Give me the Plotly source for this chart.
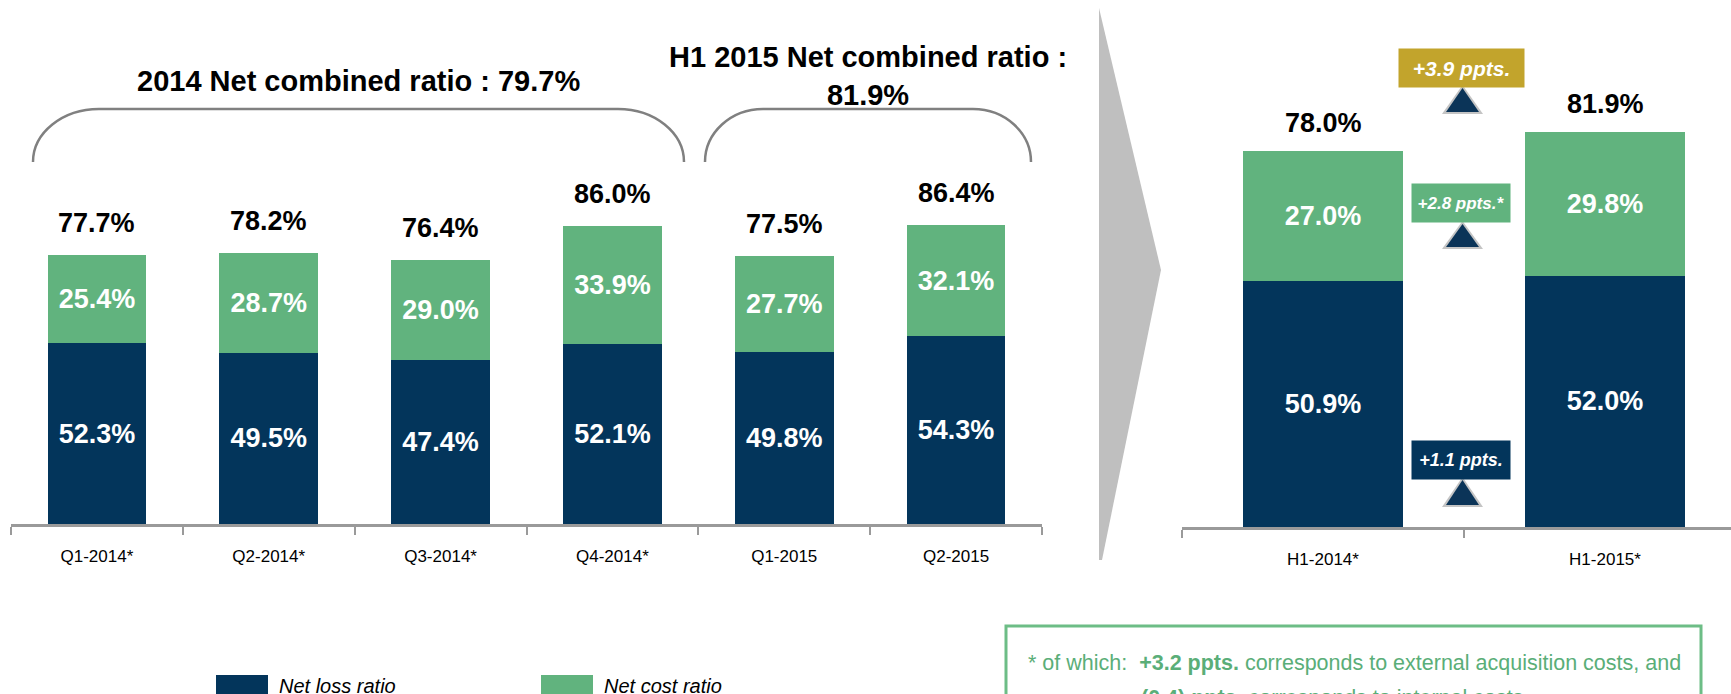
import plotly.graph_objects as go

# ---------------- data ----------------
quarters = ["Q1-2014*", "Q2-2014*", "Q3-2014*", "Q4-2014*", "Q1-2015", "Q2-2015"]
q_loss = [52.3, 49.5, 47.4, 52.1, 49.8, 54.3]
q_cost = [25.4, 28.7, 29.0, 33.9, 27.7, 32.1]
q_total = [77.7, 78.2, 76.4, 86.0, 77.5, 86.4]

halves = ["H1-2014*", "H1-2015*"]
h_loss = [50.9, 52.0]
h_cost = [27.0, 29.8]
h_total = [78.0, 81.9]

delta_total = "+3.9 ppts."
delta_cost = "+2.8 ppts.*"
delta_loss = "+1.1 ppts."

title_2014 = "2014 Net combined ratio : 79.7%"
title_h1 = "H1 2015 Net combined ratio :<br>81.9%"
series_names = ["Net loss ratio", "Net cost ratio"]
footnote_1 = "* of which:  <b>+3.2 ppts.</b> corresponds to external acquisition costs, and"
footnote_2 = "<b>(0.4) ppts.</b> corresponds to internal costs"

# ---------------- style ----------------
W, H = 1731, 694
NAVY = "#03355b"
GREEN = "#61b37e"
GOLD = "#c2a42c"
GRAY_AX = "#9a9a9a"
FONT = "Liberation Sans, Arial, sans-serif"
LABEL_SIZE = 27


def px(x):
    return x / W


def py(y):
    return 1 - y / H


def fmt(v):
    return f"{v:.1f}%"


fig = go.Figure()

bar_text_font = dict(family=FONT, size=LABEL_SIZE, color="white", weight="bold")
for xs, ys, col, xa, ya, w in [
    (quarters, q_loss, NAVY, "x", "y", 0.575),
    (quarters, q_cost, GREEN, "x", "y", 0.575),
    (halves, h_loss, NAVY, "x2", "y2", 0.57),
    (halves, h_cost, GREEN, "x2", "y2", 0.57),
]:
    fig.add_trace(go.Bar(x=xs, y=ys, marker_color=col, marker_line_width=0,
                         name=series_names[0] if col == NAVY else series_names[1],
                         text=[fmt(v) for v in ys], textposition="inside",
                         insidetextanchor="middle", textangle=0, constraintext="none",
                         textfont=bar_text_font, width=w, xaxis=xa, yaxis=ya,
                         showlegend=False, hoverinfo="skip"))

annotations = []
for c, t in zip(quarters, q_total):
    annotations.append(dict(x=c, y=t, xref="x", yref="y", text=fmt(t), showarrow=False,
                            yanchor="middle", yshift=32,
                            font=dict(family=FONT, size=LABEL_SIZE, color="black", weight="bold")))
for c, t in zip(halves, h_total):
    annotations.append(dict(x=c, y=t, xref="x2", yref="y2", text=fmt(t), showarrow=False,
                            yanchor="middle", yshift=27,
                            font=dict(family=FONT, size=LABEL_SIZE, color="black", weight="bold")))

# titles
annotations.append(dict(x=px(358), y=py(81), xref="paper", yref="paper", text=title_2014,
                        showarrow=False, xanchor="center", yanchor="middle",
                        font=dict(family=FONT, size=29, color="black", weight="bold")))
annotations.append(dict(x=px(868), y=py(76), xref="paper", yref="paper", text=title_h1,
                        showarrow=False, xanchor="center", yanchor="middle",
                        font=dict(family=FONT, size=29, color="black", weight="bold")))


# delta boxes
def delta_box(text, cx, cy, w, h, bg, size):
    return dict(x=px(cx), y=py(cy), xref="paper", yref="paper", text=f"<i><b>{text}</b></i>",
                showarrow=False, xanchor="center", yanchor="middle", width=w, height=h,
                bgcolor=bg, borderpad=0, align="center", valign="middle",
                font=dict(family=FONT, size=size, color="white"))


annotations.append(delta_box(delta_total, 1461.5, 68, 125, 38, GOLD, 21))
annotations.append(delta_box(delta_cost, 1461, 203, 98, 38, GREEN, 17))
annotations.append(delta_box(delta_loss, 1461, 460, 98, 38, NAVY, 18))

# legend
for name, xl in zip(series_names, [277, 602]):
    annotations.append(dict(x=px(xl), y=py(686), xref="paper", yref="paper",
                            text=f"<i>{name}</i>", showarrow=False,
                            xanchor="left", yanchor="middle",
                            font=dict(family=FONT, size=20, color="black")))

# footnote
annotations.append(dict(x=px(1026), y=py(663), xref="paper", yref="paper", text=footnote_1,
                        showarrow=False, xanchor="left", yanchor="middle",
                        font=dict(family=FONT, size=21.5, color="#5aae78")))
annotations.append(dict(x=px(1139), y=py(698), xref="paper", yref="paper", text=footnote_2,
                        showarrow=False, xanchor="left", yanchor="middle",
                        font=dict(family=FONT, size=21.5, color="#5aae78")))

# ---------------- shapes ----------------
shapes = []


def brace(x0, x1, ytop, ybot, rx):
    k = 0.5523
    ry = ybot - ytop
    p = lambda x, y: f"{px(x):.5f},{py(y):.5f}"
    return ("M " + p(x0, ybot) +
            " C " + p(x0, ybot - k * ry) + " " + p(x0 + rx - k * rx, ytop) + " " + p(x0 + rx, ytop) +
            " L " + p(x1 - rx, ytop) +
            " C " + p(x1 - rx + k * rx, ytop) + " " + p(x1, ybot - k * ry) + " " + p(x1, ybot))


shapes.append(dict(type="path", xref="paper", yref="paper", path=brace(33, 684, 109, 162, 66),
                   line=dict(color="#808080", width=2.5)))
shapes.append(dict(type="path", xref="paper", yref="paper", path=brace(705, 1031, 109, 162, 58),
                   line=dict(color="#808080", width=2.5)))


def poly(pts):
    return "M " + " L ".join(f"{px(x):.5f},{py(y):.5f}" for x, y in pts) + " Z"


# big gray chevron
shapes.append(dict(type="path", xref="paper", yref="paper",
                   path=poly([(1099, 8), (1161, 270), (1102, 560), (1099, 560)]),
                   fillcolor="#bfbfbf", line=dict(width=0), layer="below"))

# small up-triangles
for apex_y, base_y in [(87, 113), (223, 248), (479, 506)]:
    shapes.append(dict(type="path", xref="paper", yref="paper",
                       path=poly([(1462.5, apex_y - 2), (1483, base_y + 1), (1442, base_y + 1)]),
                       fillcolor="#c4c4c4", line=dict(width=0)))
    shapes.append(dict(type="path", xref="paper", yref="paper",
                       path=poly([(1462.5, apex_y + 1), (1479, base_y - 1), (1446, base_y - 1)]),
                       fillcolor="#0b3458", line=dict(width=0)))

# legend swatches
shapes.append(dict(type="rect", xref="paper", yref="paper", x0=px(216), x1=px(268),
                   y0=py(675), y1=py(710), fillcolor=NAVY, line=dict(width=0)))
shapes.append(dict(type="rect", xref="paper", yref="paper", x0=px(541), x1=px(593),
                   y0=py(675), y1=py(710), fillcolor=GREEN, line=dict(width=0)))
# footnote box
shapes.append(dict(type="rect", xref="paper", yref="paper", x0=px(1006), x1=px(1701),
                   y0=py(626), y1=py(730), fillcolor="rgba(0,0,0,0)",
                   line=dict(color="#6dbd86", width=3)))

axis_common = dict(showgrid=False, zeroline=False, showline=True, linecolor=GRAY_AX,
                   linewidth=2.5, ticks="outside", ticklen=8, tickwidth=2, tickcolor=GRAY_AX,
                   tickson="boundaries", type="category", ticklabelstandoff=15,
                   automargin=False,
                   tickfont=dict(family=FONT, size=17, color="black"), fixedrange=True)

fig.update_layout(
    width=W, height=H, margin=dict(l=0, r=0, t=0, b=0, pad=0),
    paper_bgcolor="white", plot_bgcolor="rgba(0,0,0,0)",
    barmode="stack", showlegend=False,
    xaxis=dict(domain=[px(11), px(1042)], range=[-0.5, 5.5], anchor="y", **axis_common),
    yaxis=dict(domain=[py(524), 1], range=[0, 524 / 3.46], visible=False, anchor="x"),
    xaxis2=dict(domain=[px(1182), 1], range=[-0.5, -0.5 + 549 / 282], anchor="y2", **axis_common),
    yaxis2=dict(domain=[py(527), 1], range=[0, 527 / 4.83], visible=False, anchor="x2"),
    annotations=annotations, shapes=shapes,
)

fig.write_html("out.html", config={"displayModeBar": False},
               post_script="document.body.style.margin='0';document.body.style.overflow='hidden';")
